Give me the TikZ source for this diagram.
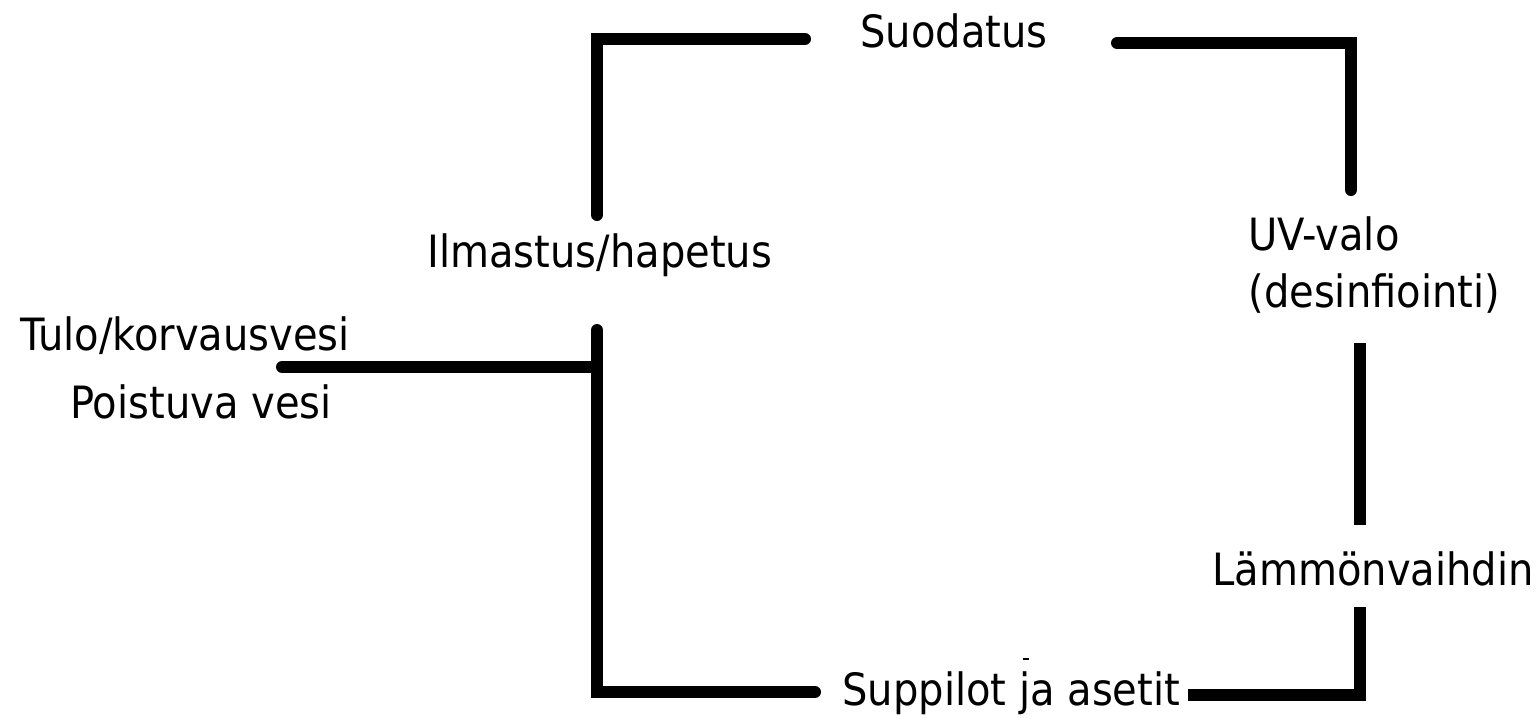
\documentclass[tikz,border=0pt]{standalone}
\usepackage{fontspec}
\setmainfont{DejaVu Sans Condensed}
\usetikzlibrary{positioning}

\begin{document}
\begin{tikzpicture}[x=0.5pt, y=-0.5pt]
			\tikzstyle{txt} = [anchor=base west, inner sep=0pt, font=\fontsize{22.25}{28.5}\selectfont]
			\tikzstyle{flow} = [line width=6pt, line cap=round, line join=miter]
			
			\useasboundingbox (0, 0) rectangle (1537, 718);
			
			\node[txt] 	at (860, 47) 		(suod) 	{Suodatus};
			\node[txt]	at (427, 267)		(ilma)	{Ilmastus/hapetus};
			\node[txt] 	at (20, 350)		(tulo)	{Tulo/korvausvesi};
			\node[txt] 	at (70, 418) 		(pois) 	{Poistuva vesi};
			\node[txt, align=left] 	at (1248, 307) 	(uv) 	{UV-valo\\(desinfiointi)};
			\node[txt] 	at (1212, 585) 	(lamm) 	{Lämmönvaihdin};
			\node[txt] 	at (842, 705) 	(supp) 	{Suppilot ja asetit};
			
			\coordinate (a1) at (597, 215);
			\coordinate (a2) at (597, 39);
			\coordinate (a3) at (805, 39);
			\coordinate (b1) at (1117, 43);
			\coordinate (b2) at (1351, 43);
			\coordinate (b3) at (1351, 190);
			\coordinate (c1) at (1360, 343);
			\coordinate (c2) at (1360, 525);
			\coordinate (d1) at (1360, 607);
			\coordinate (d2) at (1360, 695);
			\coordinate (d3) at (1188, 695);
			\coordinate (e1) at (815, 692);
			\coordinate (e2) at (597, 692);
			\coordinate (e3) at (597, 330);
			\coordinate (f1) at (282, 367);
			\coordinate (f2) at (597, 367);
			
			\draw[flow] (a1) -- (a2) -- (a3);
			\draw[flow] (b1) -- (b2) -- (b3);
			\draw[flow, line cap=butt] (c1) -- (c2);
			\draw[flow, line cap=butt] (d1) -- (d2) -- (d3);
			\draw[flow] (e1) -- (e2) -- (e3);
			\draw[flow] (f1) -- (f2);
			\draw[line width=1pt] (1023, 659) -- (1029, 659);
\end{tikzpicture}
\end{document}
